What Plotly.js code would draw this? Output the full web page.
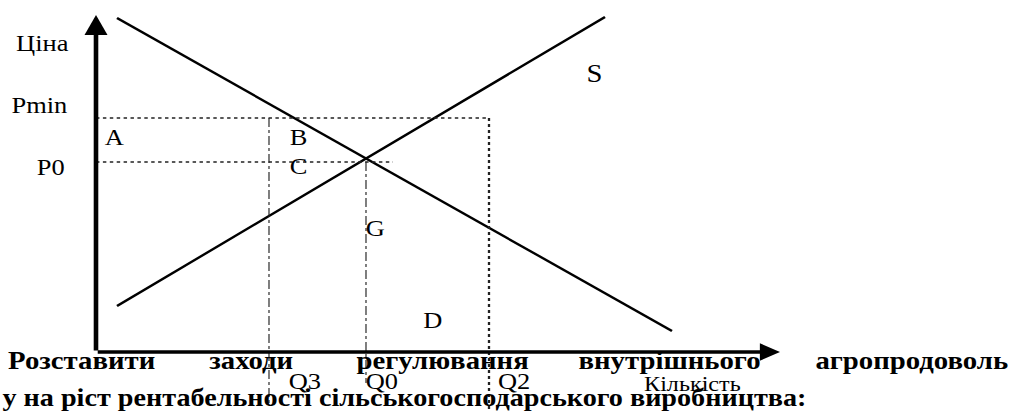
<!DOCTYPE html>
<html><head><meta charset="utf-8">
<script src="https://cdn.plot.ly/plotly-3.0.1.min.js"></script>
<style>
html,body{margin:0;padding:0;overflow:hidden;background:#fff;width:1019px;height:411px}
#chart{width:886px;height:411px;transform:scaleX(1.1501);transform-origin:0 0;}
</style></head><body><div id="chart"></div>
<script>
// ---- diagram values (abstract quantity / price units) ----
const demandQ = [2.1, 57.6];
const demandP = [33.4, 2.1];
const supplyQ = [2.1, 50.9];
const supplyP = [4.6, 33.5];
const quantityNames = ['Q3', 'Q0', 'Q2'];
const quantityValues = [17.3, 27.0, 39.3];
const priceNames = ['Pmin', 'P0'];
const priceValues = [23.4, 19.0];
const p0LineEnd = 29.7;
const guideBottoms = [-5.1, -3.1, -5.9];
const axisQmax = 68.4;
const axisPmax = 33.7;
const yAxisTitle = 'Ціна';
const xAxisTitle = 'Кількість';
const areaNames = ['A', 'B', 'C', 'G', 'D'];
const curveNames = ['S'];
const captionLine1 = ['Розставити', 'заходи', 'регулювання', 'внутрішнього', 'агропродоволь'];
const captionLine2 = 'у на ріст рентабельності сільськогосподарського виробництва:';

// ---- helpers: page pixel -> data coords for label placement ----
const fx = px => (px - 96) / 10;
const fy = py => (352 - py) / 10;

const [Q3, Q0, Q2] = quantityValues;
const [Pmin, P0] = priceValues;
const ink = '#000';
const dotInk = '#222';
const serif = 'Liberation Serif, Times New Roman, serif';

const traces = [
  {x: demandQ, y: demandP, mode: 'lines', line: {color: ink, width: 2.3}, hoverinfo: 'skip'},
  {x: supplyQ, y: supplyP, mode: 'lines', line: {color: ink, width: 2.3}, hoverinfo: 'skip'},
  {x: [0, Q2], y: [Pmin, Pmin], mode: 'lines', line: {color: dotInk, width: 1.5, dash: 'dot'}, hoverinfo: 'skip'},
  {x: [0, p0LineEnd], y: [P0, P0], mode: 'lines', line: {color: dotInk, width: 1.5, dash: 'dot'}, hoverinfo: 'skip'},
  {x: [Q3, Q3], y: [Pmin, guideBottoms[0]], mode: 'lines', line: {color: dotInk, width: 1, dash: 'dashdot'}, hoverinfo: 'skip'},
  {x: [Q0, Q0], y: [P0, guideBottoms[1]], mode: 'lines', line: {color: dotInk, width: 1, dash: 'dashdot'}, hoverinfo: 'skip'},
  {x: [Q2, Q2], y: [Pmin, guideBottoms[2]], mode: 'lines', line: {color: dotInk, width: 2, dash: 'dot'}, hoverinfo: 'skip'}
];

function label(text, px, py, size, bold) {
  return {
    text: bold ? '<b>' + text + '</b>' : text,
    x: fx(px), y: fy(py), xref: 'x', yref: 'y',
    xanchor: 'left', yanchor: 'middle', showarrow: false,
    font: {family: serif, size: size, color: ink}
  };
}

const annotations = [
  // axes with arrowheads
  {x: 0, y: axisPmax, ax: 0, ay: 0, xref: 'x', yref: 'y', axref: 'x', ayref: 'y',
   text: '', showarrow: true, arrowhead: 2, arrowsize: 1, arrowwidth: 4, arrowcolor: ink},
  {x: axisQmax, y: 0, ax: 0, ay: 0, xref: 'x', yref: 'y', axref: 'x', ayref: 'y',
   text: '', showarrow: true, arrowhead: 2, arrowsize: 1, arrowwidth: 3.5, arrowcolor: ink},
  label(yAxisTitle, 14, 43, 23),
  label(priceNames[0], 9, 105, 23),
  label(priceNames[1], 34, 167, 23),
  label(areaNames[0], 102, 137, 23),
  label(areaNames[1], 287, 137, 23),
  label(areaNames[2], 287, 166, 23),
  label(areaNames[3], 364, 228, 23),
  label(areaNames[4], 421, 320, 23),
  label(curveNames[0], 584, 73, 25),
  label(quantityNames[0], 286, 381, 23),
  label(quantityNames[1], 364, 381, 23),
  label(quantityNames[2], 496, 381, 23),
  label(xAxisTitle, 642, 384, 21),
  label(captionLine1[0], 6, 360, 25, true),
  label(captionLine1[1], 207, 360, 25, true),
  label(captionLine1[2], 354, 360, 25, true),
  label(captionLine1[3], 576, 360, 25, true),
  label(captionLine1[4], 813, 360, 25, true),
  label(captionLine2, 0, 397, 24.5, true)
];

const layout = {
  width: 886, height: 411,
  margin: {l: 0, r: 0, t: 0, b: 0, pad: 0},
  paper_bgcolor: '#fff', plot_bgcolor: '#fff',
  showlegend: false,
  xaxis: {range: [fx(0), fx(1019)], visible: false, fixedrange: true},
  yaxis: {range: [fy(411), fy(0)], visible: false, fixedrange: true},
  annotations: annotations
};

Plotly.newPlot('chart', traces, layout, {displayModeBar: false, staticPlot: true});
</script></body></html>
